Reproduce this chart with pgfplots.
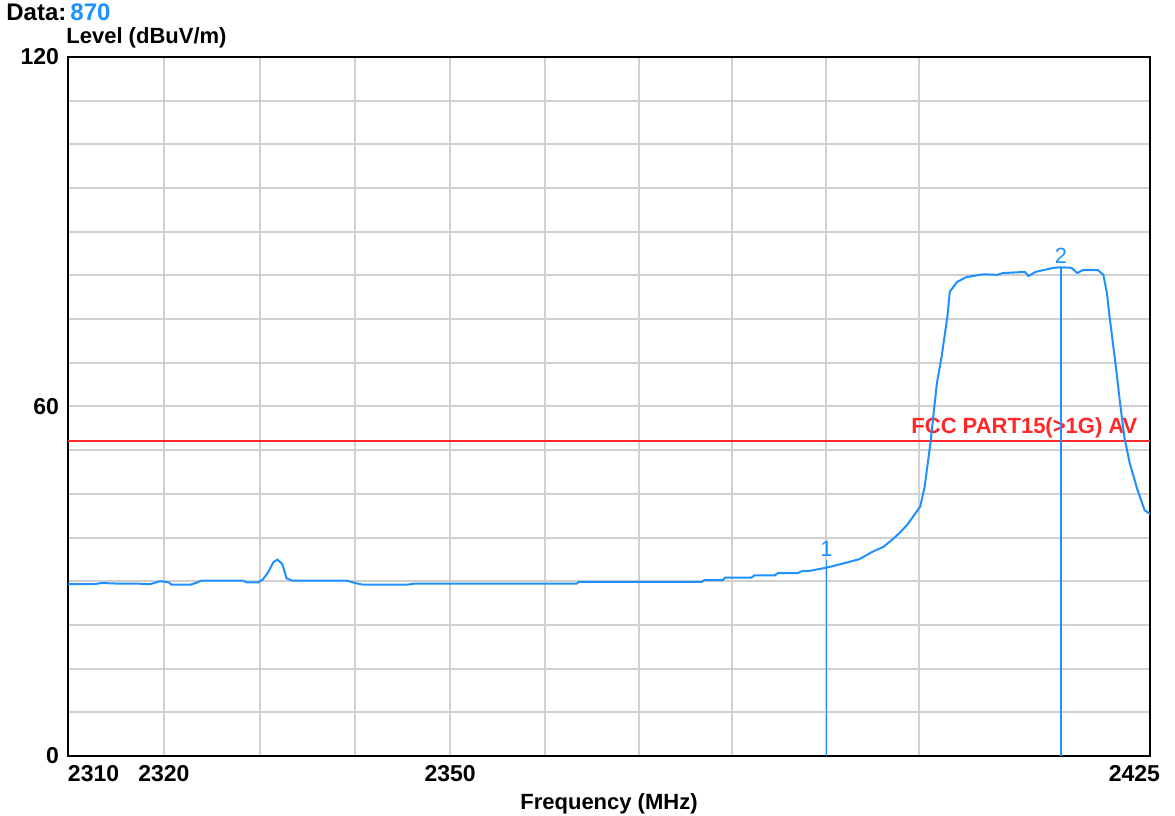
\documentclass[border=0pt]{standalone}
\usepackage{fontspec}
\setmainfont{Liberation Sans}
\usepackage{pgfplots}
\pgfplotsset{compat=1.18}

\definecolor{trace}{RGB}{30,144,255}
\definecolor{limitred}{RGB}{255,40,40}
\definecolor{gridgray}{RGB}{208,208,208}

% scan trace: frequency (MHz), level (dBuV/m)
\pgfplotstableread{
f      lv
2310   29.5
2312.8 29.5
2313.5 29.7
2315   29.6
2317   29.6
2318.5 29.5
2319.6 30.0
2320.5 29.8
2320.8 29.4
2322.7 29.4
2323.3 29.7
2323.9 30.1
2328.2 30.1
2328.6 29.8
2329.8 29.8
2330.3 30.3
2330.8 31.4
2331.4 33.3
2331.9 33.7
2332.3 33.0
2332.8 30.5
2333.4 30.1
2339.1 30.1
2340.2 29.6
2340.8 29.4
2345.4 29.4
2346.3 29.6
2351   29.6
2363.4 29.6
2363.6 29.9
2376.7 29.9
2377   30.2
2378.9 30.2
2379.2 30.6
2382.0 30.6
2382.3 31.0
2384.5 31.0
2384.8 31.4
2387.0 31.4
2387.3 31.7
2388.3 31.8
2389.6 32.2
2390.7 32.6
2392.2 33.2
2393.6 33.8
2395.0 35.1
2396.1 35.9
2397.1 37.1
2397.9 38.3
2398.7 39.7
2399.5 41.4
2400.1 42.8
2400.6 46.2
2401.2 53.7
2401.9 64.0
2402.4 68.5
2403.0 75.4
2403.3 79.7
2404.1 81.4
2405.1 82.2
2406.9 82.7
2408.4 82.6
2409.0 82.9
2411.4 83.1
2411.8 82.4
2412.5 83.1
2414.5 83.8
2415.3 83.9
2416.5 83.8
2417.1 82.9
2417.7 83.4
2419.3 83.4
2419.9 82.6
2420.3 79.5
2420.6 75.4
2421.2 67.5
2421.7 60.6
2422.2 54.8
2422.8 50.3
2423.6 45.7
2424.4 42.2
2425   41.5
}\scan

\begin{document}
\begin{tikzpicture}
\begin{axis}[
    name=ax,
    scale only axis,
    width=541pt, height=349.5pt,
    % logarithmic frequency axis, mapped relative to 2310 MHz
    x coord trafo/.code={\pgfmathparse{1000*ln(#1/2310)}},
    x coord inv trafo/.code={\pgfmathparse{2310*exp(#1/1000)}},
    xmin=2310, xmax=2425,
    ymin=0, ymax=120,
    xtick={2310,2320,2350,2425},
    xticklabels={\makebox[0pt][l]{2310},2320,2350,\makebox[0pt][r]{2425\kern-5pt}},
    minor xtick={2330,2340,2360,2370,2380,2390,2400},
    ytick={0,60,120},
    yticklabels={0,60,120},
    minor ytick={7.5,15,...,112.5},
    grid=both,
    major grid style={gridgray, line width=1pt},
    minor grid style={gridgray, line width=1pt},
    major tick length=0pt, minor tick length=0pt,
    axis line style={black, line width=1pt},
    tick label style={font=\fontsize{11.5}{13}\selectfont\bfseries},
    xticklabel style={yshift=-1pt},
    yticklabel style={xshift=-1pt},
    xlabel={Frequency (MHz)},
    xlabel style={font=\fontsize{11}{13}\selectfont\bfseries,
        at={(axis description cs:0.5,0)}, anchor=base, yshift=-27pt},
]
    % limit line
    \addplot[limitred, line width=1pt] coordinates {(2310,54) (2425,54)}
        node[pos=1, anchor=south east, xshift=-5pt, inner sep=1pt,
             font=\fontsize{11}{13}\selectfont\bfseries, text=limitred]
        {FCC PART15(>1G) AV};

    % measured trace
    \addplot[trace, line width=1pt] table[x=f, y=lv] {\scan};

    % markers
    \addplot[trace, line width=0.75pt] coordinates {(2390,0) (2390,33.7)}
        node[pos=1, anchor=south, inner sep=1pt, font=\fontsize{11}{13}\selectfont] {1};
    \addplot[trace, line width=0.75pt] coordinates {(2415.3,0) (2415.3,83.9)}
        node[pos=1, anchor=south, inner sep=1.5pt, font=\fontsize{11}{13}\selectfont] {2};
\end{axis}

\node[anchor=base west, inner sep=0pt, font=\fontsize{12}{14}\selectfont\bfseries]
    at ([shift={(-31pt,18pt)}]ax.north west) {Data:\,\textcolor{trace}{870}};
\node[anchor=base west, inner sep=0pt, font=\fontsize{11}{13}\selectfont\bfseries]
    at ([shift={(-1pt,6.5pt)}]ax.north west) {Level (dBuV/m)};

\pgfresetboundingbox
\path ([shift={(-34pt,-30pt)}]ax.south west) rectangle ([shift={(12.5pt,28.5pt)}]ax.north east);
\end{tikzpicture}
\end{document}
